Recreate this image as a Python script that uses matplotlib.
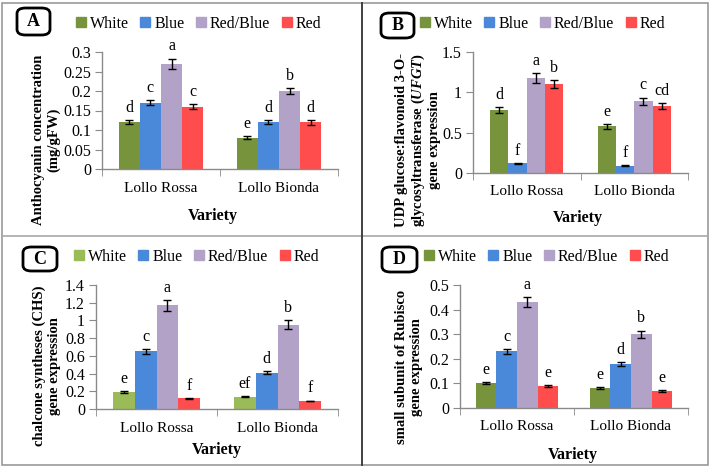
import matplotlib
matplotlib.use("Agg")
import matplotlib.pyplot as plt
import numpy as np
from matplotlib.patches import FancyBboxPatch, Rectangle
from matplotlib.lines import Line2D

plt.rcParams["font.family"] = ["Liberation Serif", "DejaVu Serif"]
plt.rcParams["mathtext.fontset"] = "custom"
plt.rcParams["mathtext.rm"] = "Liberation Serif"
plt.rcParams["mathtext.bf"] = "Liberation Serif:bold"
plt.rcParams["mathtext.it"] = "Liberation Serif:italic"
plt.rcParams["mathtext.bfit"] = "Liberation Serif:italic:bold"

varieties = ["Lollo Rossa", "Lollo Bionda"]
treatments = ["White", "Blue", "Red/Blue", "Red"]

# panel A: anthocyanin
a_vals = [[0.12, 0.17, 0.27, 0.16], [0.08, 0.12, 0.20, 0.12]]
a_err = [[0.005, 0.007, 0.013, 0.007], [0.004, 0.005, 0.008, 0.006]]
a_let = [["d", "c", "a", "c"], ["e", "d", "b", "d"]]

# panel B: UFGT
b_vals = [[0.78, 0.12, 1.18, 1.10], [0.58, 0.09, 0.89, 0.83]]
b_err = [[0.04, 0.008, 0.06, 0.05], [0.03, 0.005, 0.045, 0.04]]
b_let = [["d", "f", "a", "b"], ["e", "f", "c", "cd"]]

# panel C: CHS
c_vals = [[0.19, 0.65, 1.17, 0.12], [0.14, 0.41, 0.95, 0.09]]
c_err = [[0.01, 0.03, 0.06, 0.005], [0.007, 0.02, 0.05, 0.005]]
c_let = [["e", "c", "a", "f"], ["ef", "d", "b", "f"]]

# panel D: rubisco small subunit
d_vals = [[0.10, 0.23, 0.43, 0.09], [0.08, 0.18, 0.30, 0.07]]
d_err = [[0.004, 0.01, 0.02, 0.004], [0.004, 0.008, 0.015, 0.004]]
d_let = [["e", "c", "a", "e"], ["e", "d", "b", "e"]]

OLIVE = "#77933c"
LIGHTGREEN = "#9bbb59"
BLUE = "#4a88d9"
LAVENDER = "#b3a2c7"
RED = "#ff4d4d"
AXIS_GRAY = "#8a8a8a"

W, H = 710, 470
fig = plt.figure(figsize=(W / 100, H / 100), dpi=100)


def px_axes(left, top, right, bottom):
    return fig.add_axes([left / W, 1 - bottom / H, (right - left) / W, (bottom - top) / H])


def draw_panel(box, vals, errs, letters, colors, ylim, yticks, yticklabels, bw,
               tag, tagbox, legend_xy, ylabel, ylabel_xy, variety_xy):
    ax = px_axes(*box)
    x = np.arange(len(varieties))
    offs = (np.arange(4) - 1.5) * bw
    vals = np.array(vals)
    errs = np.array(errs)
    for j in range(4):
        ax.bar(x + offs[j], vals[:, j], bw, color=colors[j], zorder=2)
        ax.errorbar(x + offs[j], vals[:, j], yerr=errs[:, j], fmt="none",
                    ecolor="black", elinewidth=1, capsize=2.8, capthick=1, zorder=3)
        for i in range(len(varieties)):
            ax.annotate(letters[i][j], (x[i] + offs[j], vals[i, j] + errs[i, j]),
                        xytext=(0, 3), textcoords="offset points",
                        ha="center", va="bottom", fontsize=11.5)
    ax.set_xlim(-0.5, len(varieties) - 0.5)
    ax.set_ylim(*ylim)
    ax.set_yticks(yticks)
    ax.set_yticklabels(yticklabels)
    ax.set_xticks(x)
    ax.set_xticklabels(varieties)
    ax.set_xticks(np.arange(-0.5, len(varieties), 1.0), minor=True)
    ax.tick_params(axis="x", which="major", length=0, pad=9, labelsize=11)
    ax.tick_params(axis="x", which="minor", length=5, color=AXIS_GRAY, direction="out")
    ax.tick_params(axis="y", length=5, color=AXIS_GRAY, direction="out", labelsize=11.5, pad=3)
    for s in ("top", "right"):
        ax.spines[s].set_visible(False)
    for s in ("left", "bottom"):
        ax.spines[s].set_color(AXIS_GRAY)
        ax.spines[s].set_linewidth(1)

    # panel tag box
    l, t, r, b = tagbox
    fig.patches.append(FancyBboxPatch((l / W, 1 - b / H), (r - l) / W, (b - t) / H,
                                      boxstyle="round,pad=0,rounding_size=0.012",
                                      transform=fig.transFigure, fill=False,
                                      edgecolor="black", linewidth=2))
    fig.text((l + r) / 2 / W, 1 - (t + b) / 2 / H, tag, ha="center", va="center",
             fontsize=13, fontweight="bold")

    handles = [Line2D([], [], marker="s", linestyle="none", markersize=7,
                      markerfacecolor=c, markeredgecolor=c) for c in colors]
    fig.legend(handles, treatments, loc="center left",
               bbox_to_anchor=(legend_xy[0] / W, 1 - legend_xy[1] / H),
               ncol=4, frameon=False, fontsize=11.5, handlelength=0.6,
               handletextpad=0.25, columnspacing=0.75, borderaxespad=0, borderpad=0)

    fig.text(ylabel_xy[0] / W, 1 - ylabel_xy[1] / H, ylabel, rotation=90,
             ha="center", va="center", fontsize=10.5, fontweight="bold",
             linespacing=1.15, multialignment="center")
    fig.text(variety_xy[0] / W, 1 - variety_xy[1] / H, "Variety", ha="center",
             va="center", fontsize=11.5, fontweight="bold")
    return ax


std_colors = [OLIVE, BLUE, LAVENDER, RED]

draw_panel((102, 52, 338, 169), a_vals, a_err, a_let, std_colors,
           (0, 0.3), np.arange(0, 0.31, 0.05),
           ["0", "0.05", "0.1", "0.15", "0.2", "0.25", "0.3"], 0.18,
           "A", (17, 8, 50, 35), (76, 24),
           "Anthocyanin concentration\n(mg/gFW)", (46, 140), (213, 216))

draw_panel((473, 52, 688, 173), b_vals, b_err, b_let, std_colors,
           (0, 1.5), [0, 0.5, 1.0, 1.5], ["0", "0.5", "1", "1.5"], 0.17,
           "B", (381, 13, 414, 38), (420, 24),
           "UDP glucose:flavonoid 3-O-\nglycosyltransferase ($\\mathbfit{UFGT}$)\ngene expression",
           (418, 140), (578, 218))

draw_panel((96, 285, 338, 409), c_vals, c_err, c_let, [LIGHTGREEN, BLUE, LAVENDER, RED],
           (0, 1.4), np.arange(0, 1.41, 0.2),
           ["0", "0.2", "0.4", "0.6", "0.8", "1", "1.2", "1.4"], 0.18,
           "C", (23, 247, 57, 271), (74, 257),
           "chalcone syntheses (CHS)\ngene expression", (47, 366), (217, 450))

draw_panel((460, 285, 688, 408), d_vals, d_err, d_let, std_colors,
           (0, 0.5), np.arange(0, 0.51, 0.1),
           ["0", "0.1", "0.2", "0.3", "0.4", "0.5"], 0.18,
           "D", (382, 247, 417, 272), (424, 257),
           "small subunit of Rubisco\ngene expression", (409, 367), (573, 455))

# frame and dividers
fig.patches.append(Rectangle((2 / W, 1 - 465 / H), 706 / W, 462 / H, transform=fig.transFigure,
                             fill=False, edgecolor="#9a9a9a", linewidth=1.2))
fig.lines.append(Line2D([2 / W, 708 / W], [1 - 236 / H] * 2, transform=fig.transFigure,
                        color="#a8a8a8", linewidth=1.2))
fig.lines.append(Line2D([361.5 / W] * 2, [1 - 3 / H, 1 - 465 / H], transform=fig.transFigure,
                        color="#333333", linewidth=1.3))

fig.savefig("out.png", dpi=100)
